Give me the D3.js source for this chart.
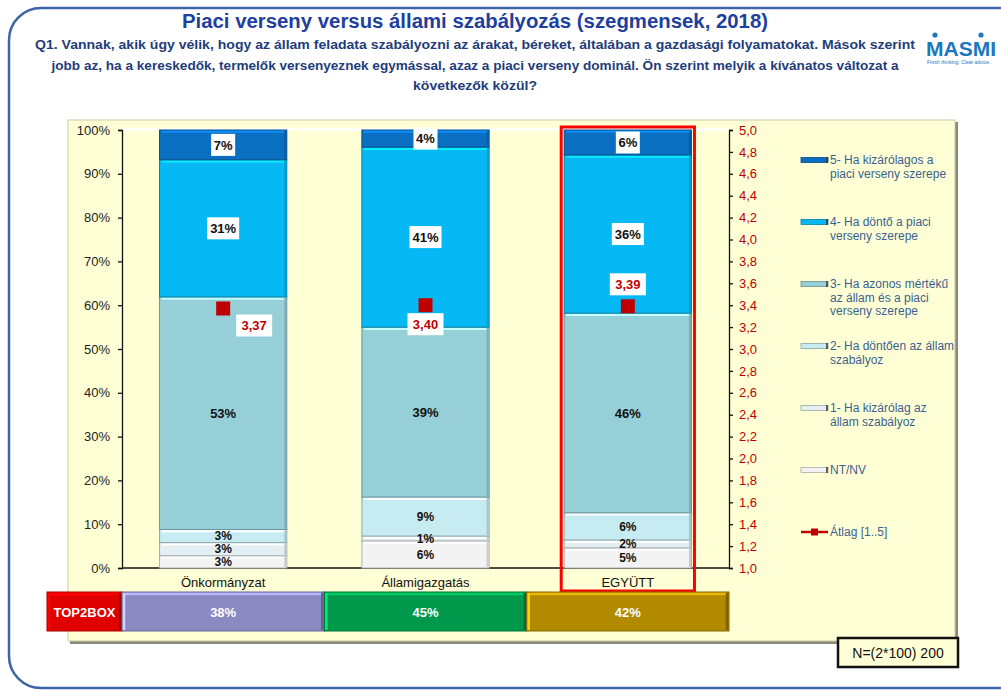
<!DOCTYPE html>
<html>
<head>
<meta charset="utf-8">
<script src="https://cdn.jsdelivr.net/npm/d3@7"></script>
<style>
body { margin: 0; background: #fff; }
svg { display: block; }
</style>
</head>
<body>
<div id="chart"></div>
<script>
// chart data
var categories = ["Önkormányzat", "Államigazgatás", "EGYÜTT"];
var ntnv = [2.8, 6.2, 4.6];
var s1 = [3.0, 1.1, 1.8];
var s2 = [3.0, 8.9, 6.2];
var s3 = [53.1, 38.8, 45.6];
var s4 = [31.3, 41.1, 36.1];
var s5 = [6.8, 3.9, 5.7];
var averages = [3.37, 3.40, 3.39];
var top2box = [38, 45, 42];
var percentTicks = [0, 10, 20, 30, 40, 50, 60, 70, 80, 90, 100];
var avgTicks = [1.0, 1.2, 1.4, 1.6, 1.8, 2.0, 2.2, 2.4, 2.6, 2.8, 3.0, 3.2, 3.4, 3.6, 3.8, 4.0, 4.2, 4.4, 4.6, 4.8, 5.0];

var keys = ["ntnv", "s1", "s2", "s3", "s4", "s5"];
var legendLines = {
    s5: ["5- Ha kizárólagos a", "piaci verseny szerepe"],
    s4: ["4- Ha döntő a piaci", "verseny szerepe"],
    s3: ["3- Ha azonos mértékű", "az állam és a piaci", "verseny szerepe"],
    s2: ["2- Ha döntően az állam", "szabályoz"],
    s1: ["1- Ha kizárólag az", "állam szabályoz"],
    ntnv: ["NT/NV"],
    avg: ["Átlag [1..5]"]
};
var colors = {
    s5: "#0b6fc1", s4: "#06b9f4", s3: "#96cfd8",
    s2: "#c6ebf1", s1: "#e3eff2", ntnv: "#f3f3f3"
};
var top2Colors = ["#8a89c2", "#00994c", "#b18a00"];

var W = 1001, H = 691;
var plot = { left: 122, right: 729, top: 130, bottom: 568 };
var narrow = "'Liberation Sans Narrow', 'Liberation Sans', Arial, sans-serif";
var sans = "'Liberation Sans', Arial, sans-serif";

var svg = d3.select("#chart").append("svg")
    .attr("width", W).attr("height", H);

// outer rounded frame
svg.append("rect")
    .attr("x", 9).attr("y", 8).attr("width", 1040).attr("height", 680)
    .attr("rx", 32).attr("fill", "none")
    .attr("stroke", "#3d64a6").attr("stroke-width", 2.5);

// title + question
svg.append("text")
    .attr("x", 475).attr("y", 28)
    .attr("text-anchor", "middle")
    .attr("textLength", 586).attr("lengthAdjust", "spacingAndGlyphs")
    .style("font-family", narrow).style("font-weight", "bold")
    .style("font-size", "20px").style("fill", "#1f3f9e")
    .text("Piaci verseny versus állami szabályozás (szegmensek, 2018)");

var qLines = [
    ["Q1. Vannak, akik úgy vélik, hogy az állam feladata szabályozni az árakat, béreket, általában a gazdasági folyamatokat. Mások szerint", 49, 880],
    ["jobb az, ha a kereskedők, termelők versenyeznek egymással, azaz a piaci verseny dominál. Ön szerint melyik a kívánatos változat a", 70, 847],
    ["következők közül?", 90, 124]
];
qLines.forEach(function(q) {
    svg.append("text")
        .attr("x", 475).attr("y", q[1])
        .attr("text-anchor", "middle")
        .attr("textLength", q[2]).attr("lengthAdjust", "spacingAndGlyphs")
        .style("font-family", narrow).style("font-weight", "bold")
        .style("font-size", "13.5px").style("fill", "#1f3d7a")
        .text(q[0]);
});

// MASMI logo
svg.append("text")
    .attr("x", 926).attr("y", 56)
    .style("font-family", sans).style("font-weight", "bold")
    .style("font-size", "21px").style("fill", "#1b77bf")
    .text("MASMI");
[935, 981].forEach(function(cx) {
    svg.append("circle").attr("cx", cx).attr("cy", 35).attr("r", 2.6).attr("fill", "#1b77bf");
});
svg.append("text")
    .attr("x", 927).attr("y", 64)
    .style("font-family", sans).style("font-size", "5px").style("fill", "#1b77bf")
    .text("Fresh thinking. Clear advice.");

// yellow panel with shadow
svg.append("rect")
    .attr("x", 70).attr("y", 122).attr("width", 888).attr("height", 522)
    .attr("fill", "#8a8a78");
svg.append("rect")
    .attr("x", 68).attr("y", 120).attr("width", 887).attr("height", 521)
    .attr("fill", "#ffffd6").attr("stroke", "#c9c9a6").attr("stroke-width", 1);
svg.append("rect")
    .attr("x", plot.left).attr("y", plot.top - 2)
    .attr("width", plot.right - plot.left).attr("height", 3)
    .attr("fill", "#ffffff").attr("opacity", 0.8);

// scales
var x = d3.scaleBand().domain(categories)
    .range([plot.left, plot.right]).paddingInner(0.371).paddingOuter(0.1855);
var y = d3.scaleLinear().domain([0, 100]).range([plot.bottom, plot.top]);
var yAvg = d3.scaleLinear().domain([1, 5]).range([plot.bottom, plot.top]);

var rows = categories.map(function(c, i) {
    return { cat: c, ntnv: ntnv[i], s1: s1[i], s2: s2[i], s3: s3[i], s4: s4[i], s5: s5[i] };
});
var stacked = d3.stack().keys(keys)(rows);

// axes
var yAxis = d3.axisLeft(y).tickValues(percentTicks)
    .tickSize(4).tickFormat(function(d) { return d + "%"; });
var gy = svg.append("g")
    .attr("transform", "translate(" + plot.left + ",0)")
    .call(yAxis);
gy.selectAll("text").style("font-family", sans).style("font-size", "13px")
    .style("fill", "#222").attr("x", -12);
gy.selectAll("line, path").attr("stroke", "#111").attr("stroke-width", 1.3);

var fmtComma = d3.formatLocale({ decimal: ",", thousands: " ", grouping: [3], currency: ["", ""] });
var yAxisR = d3.axisRight(yAvg).tickValues(avgTicks)
    .tickSize(4).tickFormat(fmtComma.format(".1f"));
var gr = svg.append("g")
    .attr("transform", "translate(" + plot.right + ",0)")
    .call(yAxisR);
gr.selectAll("text").style("font-family", sans).style("font-size", "13px")
    .style("fill", "#c00000").attr("x", 10);
gr.selectAll("line, path").attr("stroke", "#111").attr("stroke-width", 1.3);

// bottom axis line
svg.append("line")
    .attr("x1", plot.left).attr("x2", plot.right)
    .attr("y1", plot.bottom).attr("y2", plot.bottom)
    .attr("stroke", "#111").attr("stroke-width", 1.3);

// stacked bars
var layer = svg.selectAll(".layer")
    .data(stacked).enter().append("g")
    .attr("class", "layer");

layer.each(function(s) {
    var g = d3.select(this);
    var c = colors[s.key];
    var segs = g.selectAll("g").data(s).enter().append("g");
    segs.append("rect")
        .attr("x", function(d) { return x(d.data.cat); })
        .attr("y", function(d) { return y(d[1]); })
        .attr("width", x.bandwidth())
        .attr("height", function(d) { return y(d[0]) - y(d[1]); })
        .attr("fill", c)
        .attr("stroke", d3.color(c).darker(0.9))
        .attr("stroke-width", 1);
    // bevel highlight on top edge
    segs.append("line")
        .attr("x1", function(d) { return x(d.data.cat) + 2; })
        .attr("x2", function(d) { return x(d.data.cat) + x.bandwidth() - 2; })
        .attr("y1", function(d) { return y(d[1]) + 1.8; })
        .attr("y2", function(d) { return y(d[1]) + 1.8; })
        .attr("stroke", d3.color(c).brighter(0.7))
        .attr("stroke-width", 2);
    // right shadow
    segs.append("line")
        .attr("x1", function(d) { return x(d.data.cat) + x.bandwidth() - 1.5; })
        .attr("x2", function(d) { return x(d.data.cat) + x.bandwidth() - 1.5; })
        .attr("y1", function(d) { return y(d[1]) + 1; })
        .attr("y2", function(d) { return y(d[0]) - 1; })
        .attr("stroke", d3.color(c).darker(0.5))
        .attr("stroke-width", 2);
});

// segment labels
var boxed = { s4: true, s5: true };
var small = { ntnv: true, s1: true, s2: true };
stacked.forEach(function(s) {
    s.forEach(function(d) {
        var cx = x(d.data.cat) + x.bandwidth() / 2;
        var cy = (y(d[0]) + y(d[1])) / 2;
        var label = Math.round(d[1] - d[0]) + "%";
        if (boxed[s.key]) {
            var bw = label.length * 8 + 8;
            svg.append("rect")
                .attr("x", cx - bw / 2).attr("y", cy - 11)
                .attr("width", bw).attr("height", 22)
                .attr("fill", "#fff");
        }
        svg.append("text")
            .attr("x", cx).attr("y", cy).attr("dy", "0.36em")
            .attr("text-anchor", "middle")
            .style("font-family", narrow).style("font-weight", "bold")
            .style("font-size", small[s.key] ? "12px" : "13px").style("fill", "#111")
            .text(label);
    });
});

// average markers + labels
var avgFmt = fmtComma.format(".2f");
var avgLabelOffset = [[31, 17], [0, 19], [0, -22]];
averages.forEach(function(a, i) {
    var cx = x(categories[i]) + x.bandwidth() / 2;
    var cy = yAvg(a);
    svg.append("rect")
        .attr("x", cx - 7).attr("y", cy - 7)
        .attr("width", 14).attr("height", 14)
        .attr("fill", "#c00000");
    var lx = cx + avgLabelOffset[i][0], ly = cy + avgLabelOffset[i][1];
    svg.append("rect")
        .attr("x", lx - 18).attr("y", ly - 11)
        .attr("width", 36).attr("height", 22)
        .attr("fill", "#fff");
    svg.append("text")
        .attr("x", lx).attr("y", ly).attr("dy", "0.36em")
        .attr("text-anchor", "middle")
        .style("font-family", narrow).style("font-weight", "bold")
        .style("font-size", "13px").style("fill", "#c00000")
        .text(avgFmt(a));
});

// category labels
categories.forEach(function(c) {
    svg.append("text")
        .attr("x", x(c) + x.bandwidth() / 2).attr("y", 587)
        .attr("text-anchor", "middle")
        .style("font-family", narrow).style("font-size", "13px")
        .style("fill", "#111")
        .text(c);
});

// red highlight around EGYÜTT
svg.append("rect")
    .attr("x", x("EGYÜTT") - 3).attr("y", plot.top - 3)
    .attr("width", x.bandwidth() + 6).attr("height", 591 - plot.top + 3)
    .attr("fill", "none").attr("stroke", "#ff0000").attr("stroke-width", 3);

// TOP2BOX row
function bevelBox(x0, w, fill, label) {
    var g = svg.append("g");
    g.append("rect")
        .attr("x", x0).attr("y", 592).attr("width", w).attr("height", 39)
        .attr("fill", fill)
        .attr("stroke", d3.color(fill).darker(0.8)).attr("stroke-width", 1);
    g.append("line")
        .attr("x1", x0 + 3).attr("x2", x0 + w - 3).attr("y1", 594).attr("y2", 594)
        .attr("stroke", d3.color(fill).brighter(0.8)).attr("stroke-width", 2.5);
    g.append("line")
        .attr("x1", x0 + 2).attr("x2", x0 + 2).attr("y1", 593).attr("y2", 630)
        .attr("stroke", d3.color(fill).brighter(1.2)).attr("stroke-width", 2.5);
    g.append("line")
        .attr("x1", x0 + w - 2).attr("x2", x0 + w - 2).attr("y1", 593).attr("y2", 630)
        .attr("stroke", d3.color(fill).darker(1)).attr("stroke-width", 2.5);
    g.append("text")
        .attr("x", x0 + w / 2).attr("y", 612).attr("dy", "0.36em")
        .attr("text-anchor", "middle")
        .style("font-family", narrow).style("font-weight", "bold")
        .style("font-size", "13px").style("fill", "#fff")
        .text(label);
}
bevelBox(47, 75, "#e00000", "TOP2BOX");
var gap = (x.step() - x.bandwidth()) / 2;
top2box.forEach(function(v, i) {
    var x0 = i === 0 ? 122 : x(categories[i]) - gap;
    var x1 = x(categories[i]) + x.bandwidth() + gap;
    if (i === 2) x1 = plot.right;
    bevelBox(x0, x1 - x0, top2Colors[i], v + "%");
});

// legend
var legendKeys = ["s5", "s4", "s3", "s2", "s1", "ntnv", "avg"];
legendKeys.forEach(function(k, i) {
    var ly = 160 + i * 62;
    var g = svg.append("g");
    if (k === "avg") {
        g.append("line").attr("x1", 801).attr("x2", 828).attr("y1", ly).attr("y2", ly)
            .attr("stroke", "#c00000").attr("stroke-width", 2.5);
        g.append("rect").attr("x", 811).attr("y", ly - 3.5).attr("width", 7).attr("height", 7)
            .attr("fill", "#c00000");
    } else {
        g.append("rect").attr("x", 801).attr("y", ly - 2.5).attr("width", 27).attr("height", 5)
            .attr("fill", colors[k]).attr("stroke", d3.color(colors[k]).darker(1)).attr("stroke-width", 0.8);
        g.append("line").attr("x1", 827).attr("x2", 827).attr("y1", ly - 3).attr("y2", ly + 3)
            .attr("stroke", "#333").attr("stroke-width", 1.5);
    }
    legendLines[k].forEach(function(t, j) {
        g.append("text")
            .attr("x", 830).attr("y", ly + j * 13.5).attr("dy", "0.35em")
            .style("font-family", sans).style("font-size", "12px")
            .style("fill", "#3b5f8e")
            .text(t);
    });
});

// N box
svg.append("rect")
    .attr("x", 838).attr("y", 638).attr("width", 120).attr("height", 29)
    .attr("fill", "#ffffd6").attr("stroke", "#111").attr("stroke-width", 2.5);
svg.append("text")
    .attr("x", 898).attr("y", 653).attr("dy", "0.36em")
    .attr("text-anchor", "middle")
    .style("font-family", narrow).style("font-size", "14px").style("fill", "#111")
    .text("N=(2*100) 200");
</script>
</body>
</html>
